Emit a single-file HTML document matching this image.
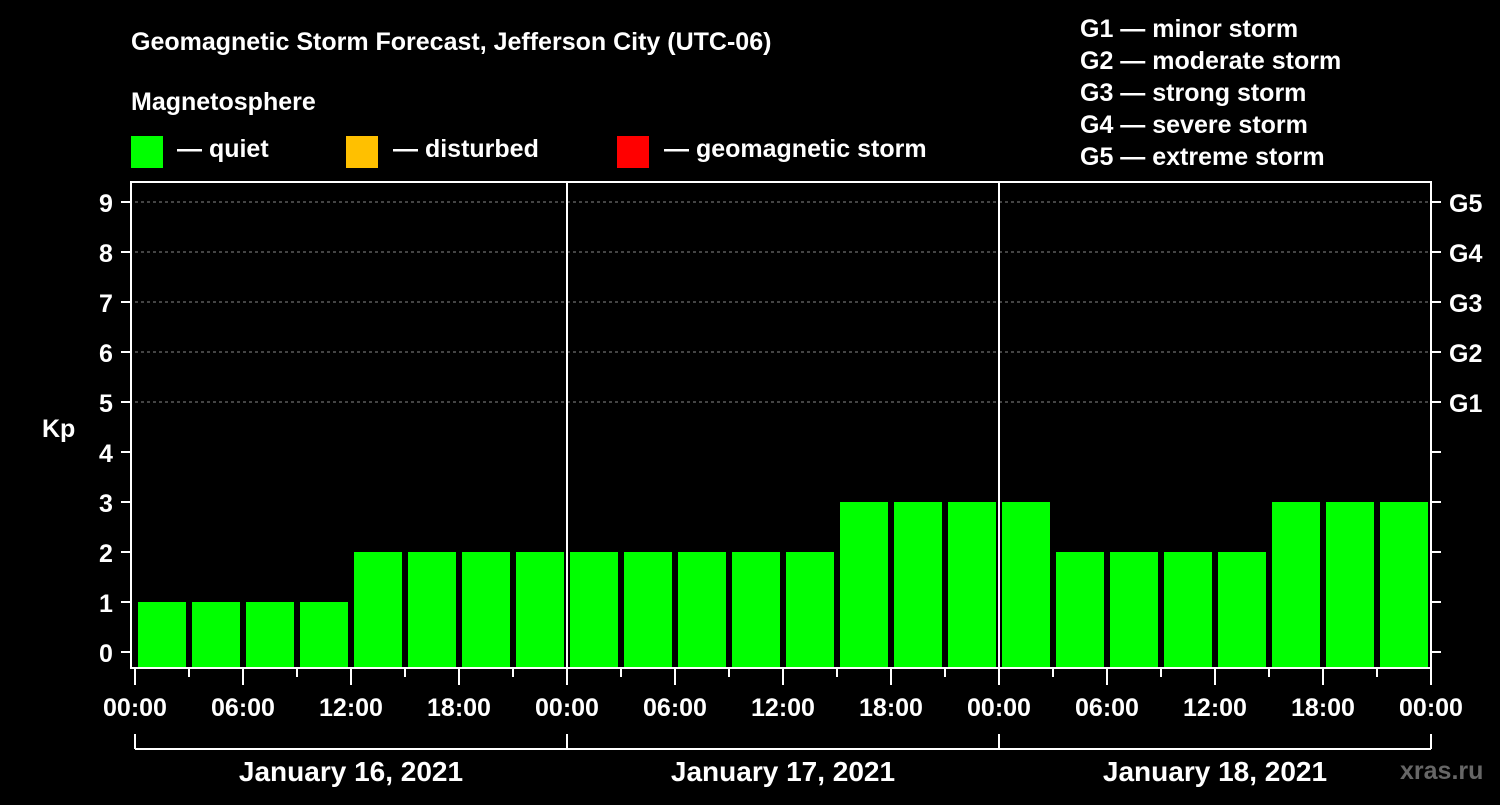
<!DOCTYPE html>
<html><head><meta charset="utf-8"><style>
body{margin:0;background:#000;width:1500px;height:800px;overflow:hidden}
svg text{font-family:"Liberation Sans",Arial,sans-serif;font-weight:bold;fill:#fff}
</style></head><body>
<svg id="chart" width="1500" height="800">
<text x="131" y="50" font-size="25">Geomagnetic Storm Forecast, Jefferson City (UTC-06)</text>
<text x="131" y="110" font-size="25">Magnetosphere</text>
<g><rect x="131" y="136" width="32" height="32" fill="#00ff00"/><text x="177" y="157" font-size="25">— quiet</text></g>
<g><rect x="346" y="136" width="32" height="32" fill="#ffc000"/><text x="393" y="157" font-size="25">— disturbed</text></g>
<g><rect x="617" y="136" width="32" height="32" fill="#ff0000"/><text x="664" y="157" font-size="25">— geomagnetic storm</text></g>
<g font-size="25">
<text x="1080" y="37">G1 — minor storm</text><text x="1080" y="69">G2 — moderate storm</text><text x="1080" y="101">G3 — strong storm</text><text x="1080" y="133">G4 — severe storm</text><text x="1080" y="165">G5 — extreme storm</text></g>
<text x="42" y="437" font-size="25">Kp</text>
<text x="1400" y="779" font-size="25" fill="#666" style="fill:#666">xras.ru</text>
<g id="grid"></g><g id="bars"></g><g id="axes"></g>
</svg>
<script>
const kpValues=[1,1,1,1,2,2,2,2,2,2,2,2,2,3,3,3,3,2,2,2,2,3,3,3];
const yTicks=[0,1,2,3,4,5,6,7,8,9];
const gLabels=["G1","G2","G3","G4","G5"];
const gLevels=[5,6,7,8,9];
const timeLabels=["00:00","06:00","12:00","18:00"];
const dayLabels=["January 16, 2021","January 17, 2021","January 18, 2021"];
const NS="http://www.w3.org/2000/svg";
const L=135,R=1431,T=182,B=667;
const yS=v=>652-v*50;
const slot=(R-L)/kpValues.length;
const xS=i=>L+i*slot;
function mk(t,a,p){const e=document.createElementNS(NS,t);for(const k in a)e.setAttribute(k,a[k]);p.appendChild(e);return e;}
const grid=document.getElementById('grid'),bars=document.getElementById('bars'),ax=document.getElementById('axes');
gLevels.forEach((v,i)=>{const l=mk('line',{x1:L,x2:R,y1:yS(v),y2:yS(v),stroke:'#888','stroke-dasharray':'3,3'},grid);


const t=mk('text',{x:1449,y:yS(v)+10,'font-size':25},ax);t.textContent=gLabels[i];

});
kpValues.forEach((v,i)=>{const c=v>=5?'#ff0000':(v>=4?'#ffc000':'#00ff00');
const r=mk('rect',{x:xS(i)+3,y:yS(v),width:slot-6,height:B-yS(v),fill:c},bars);

});
mk('rect',{x:131,y:T,width:R-131,height:B-T+1,fill:'none',stroke:'#fff','stroke-width':2},ax);
for(let d=1;d<dayLabels.length;d++){const x=L+d*8*slot;const l=mk('line',{x1:x,x2:x,y1:T,y2:B,stroke:'#fff','stroke-width':2},ax);

}
yTicks.forEach(v=>{mk('line',{x1:121,x2:131,y1:yS(v),y2:yS(v),stroke:'#fff','stroke-width':2},ax);
mk('line',{x1:R,x2:R+10,y1:yS(v),y2:yS(v),stroke:'#fff','stroke-width':2},ax);
const t=mk('text',{x:106,y:yS(v)+10,'font-size':25,'text-anchor':'middle'},ax);t.textContent=v;

});
for(let i=0;i<=kpValues.length;i++){const x=xS(i);const major=i%2==0;
mk('line',{x1:x,x2:x,y1:B,y2:major?685:677,stroke:'#fff','stroke-width':2},ax);
if(major){const lab=timeLabels[(i/2)%4];const t=mk('text',{x:x,y:716,'font-size':25,'text-anchor':'middle'},ax);t.textContent=lab;

}}
mk('line',{x1:L,x2:R,y1:749,y2:749,stroke:'#fff','stroke-width':2},ax);
for(let d=0;d<=dayLabels.length;d++){const x=L+d*8*slot;mk('line',{x1:x,x2:x,y1:734,y2:749,stroke:'#fff','stroke-width':2},ax);}
dayLabels.forEach((s,d)=>{const t=mk('text',{x:L+(d+0.5)*8*slot,y:781,'font-size':28,'text-anchor':'middle'},ax);t.textContent=s;

});
</script>
</body></html>
